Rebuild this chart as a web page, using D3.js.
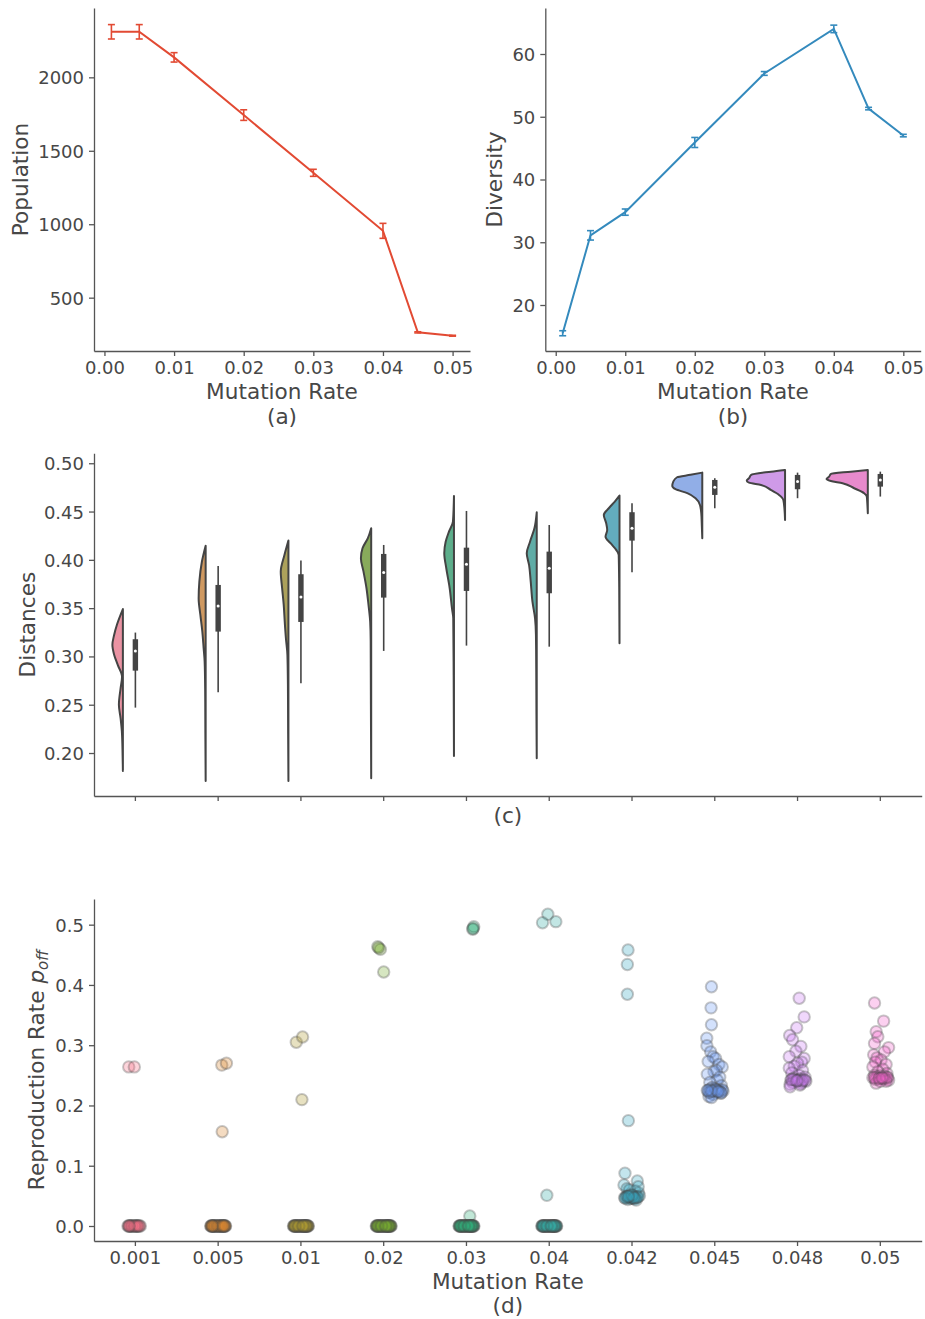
<!DOCTYPE html>
<html><head><meta charset="utf-8">
<script src="https://cdn.jsdelivr.net/npm/d3@7"></script>
<style>
body{margin:0;background:#fff;}
text{font-family:"DejaVu Sans",sans-serif;}
</style></head><body>
<svg id="chart" width="925" height="1319"></svg>
<script>
// ---------------- DATA ----------------
const rates = [0.001, 0.005, 0.01, 0.02, 0.03, 0.04, 0.045, 0.05];
const population = [2310, 2310, 2136, 1743, 1350, 955, 264, 241];
const populationErr = [49, 49, 32, 36, 24, 51, 4, 3];
const diversity = [15.5, 31.1, 34.8, 45.9, 56.9, 64.0, 51.3, 47.0];
const diversityErr = [0.4, 0.75, 0.5, 0.8, 0.3, 0.6, 0.2, 0.2];
const rateTicks = [0, 0.01, 0.02, 0.03, 0.04, 0.05];
const populationTicks = [500, 1000, 1500, 2000];
const diversityTicks = [20, 30, 40, 50, 60];

const categories = ["0.001","0.005","0.01","0.02","0.03","0.04","0.042","0.045","0.048","0.05"];
const palette = ["#f77189","#dc8932","#ae9d31","#77ab31","#33b07a","#36ada4","#38a9c5","#6e9bf4","#cc7af4","#f565cc"];
const distanceTicks = [0.20, 0.25, 0.30, 0.35, 0.40, 0.45, 0.50];
const reproTicks = [0.0, 0.1, 0.2, 0.3, 0.4, 0.5];

// violin density profiles: [distance, relative density]
const violinProfiles = [
  [[0.349,0],[0.333,0.14],[0.322,0.21],[0.312,0.25],[0.302,0.21],[0.291,0.12],[0.279,0.02],[0.267,0.055],[0.250,0.095],[0.236,0.055],[0.222,0.024],[0.198,0.007],[0.1815,0]],
  [[0.4147,0],[0.398,0.09],[0.3775,0.15],[0.360,0.167],[0.343,0.126],[0.3257,0.079],[0.3085,0.048],[0.2946,0.024],[0.267,0.012],[0.22,0.007],[0.1711,0]],
  [[0.42,0],[0.405,0.095],[0.3878,0.183],[0.3706,0.15],[0.3533,0.112],[0.336,0.088],[0.3188,0.06],[0.3016,0.024],[0.27,0.012],[0.22,0.007],[0.1711,0]],
  [[0.4327,0],[0.4224,0.079],[0.412,0.207],[0.4017,0.245],[0.3878,0.183],[0.3706,0.112],[0.3533,0.064],[0.336,0.024],[0.316,0.012],[0.25,0.007],[0.1739,0]],
  [[0.4661,0],[0.4396,0.024],[0.4292,0.119],[0.4188,0.198],[0.4068,0.231],[0.3913,0.183],[0.3706,0.102],[0.3499,0.048],[0.3395,0.017],[0.28,0.007],[0.197,0]],
  [[0.4493,0],[0.4327,0.055],[0.4188,0.16],[0.4068,0.238],[0.3947,0.183],[0.3775,0.143],[0.3567,0.102],[0.3395,0.04],[0.3223,0.019],[0.2878,0.012],[0.24,0.007],[0.1946,0]],
  [[0.4665,0],[0.4603,0.112],[0.4534,0.255],[0.4465,0.374],[0.4379,0.317],[0.431,0.293],[0.424,0.333],[0.4172,0.214],[0.4103,0.079],[0.4051,0.019],[0.371,0.007],[0.3137,0]],
  [[0.4903,0],[0.488,0.28],[0.4855,0.6],[0.481,0.69],[0.4765,0.714],[0.4731,0.636],[0.469,0.357],[0.4638,0.16],[0.4568,0.055],[0.4482,0.024],[0.4345,0.01],[0.4224,0]],
  [[0.4931,0],[0.4913,0.333],[0.4879,0.81],[0.4845,0.857],[0.482,0.912],[0.4799,0.857],[0.4775,0.571],[0.4724,0.34],[0.4672,0.143],[0.462,0.04],[0.4517,0.012],[0.4413,0]],
  [[0.4931,0],[0.4913,0.405],[0.4889,0.881],[0.4861,0.921],[0.4837,0.983],[0.4817,0.881],[0.4793,0.602],[0.4741,0.326],[0.469,0.088],[0.4655,0.024],[0.4586,0.012],[0.4482,0]]
];
const whiskerLow  = [0.247, 0.263, 0.2722, 0.3057, 0.3112, 0.3101, 0.3872, 0.4534, 0.4638, 0.4655];
const quartile1   = [0.2853, 0.3257, 0.3357, 0.3609, 0.3678, 0.3654, 0.4199, 0.4672, 0.4731, 0.4758];
const medians     = [0.3057, 0.3523, 0.3616, 0.3868, 0.3954, 0.3913, 0.4327, 0.4752, 0.481, 0.4827];
const quartile3   = [0.3178, 0.374, 0.3851, 0.4061, 0.4126, 0.4085, 0.4493, 0.4827, 0.4879, 0.4889];
const whiskerHigh = [0.3247, 0.3937, 0.3992, 0.4154, 0.4506, 0.4361, 0.4586, 0.4845, 0.4903, 0.4913];

// strip points: [reproduction rate, jitter (category units)]
const strip001 = [[0.264,-0.08],[0.264,-0.013],
  [0,-0.09],[0,-0.07],[0,-0.05],[0,-0.035],[0,-0.02],[0,0.0],[0,0.015],[0,0.03],[0,0.05],[0,-0.06],[0,0.01],[0,-0.08],[0,0.06],
  [0,-0.04],[0,0.02],[0,-0.01],[0,0.04],[0,-0.075]];
const strip005 = [[0.267,0.044],[0.270,0.1],[0.1565,0.049],
  [0,-0.09],[0,-0.075],[0,-0.06],[0,-0.045],[0,-0.03],[0,-0.015],[0,0.0],[0,0.015],[0,0.03],[0,0.045],[0,0.06],[0,0.075],[0,0.09],[0,-0.05],[0,0.02],[0,0.07],[0,-0.02],[0,0.04],[0,-0.08],[0,0.08],
  [0,-0.085],[0,-0.065],[0,-0.04],[0,-0.01],[0,0.01],[0,0.035],[0,0.055],[0,0.085],[0,-0.07],[0,0.065]];
const strip01 = [[0.305,-0.056],[0.3136,0.02],[0.2097,0.012],
  [0,-0.09],[0,-0.075],[0,-0.06],[0,-0.045],[0,-0.03],[0,-0.015],[0,0.0],[0,0.015],[0,0.03],[0,0.045],[0,0.06],[0,0.075],[0,0.09],[0,-0.05],[0,0.02],[0,0.07],[0,-0.02],[0,0.04],[0,-0.08],[0,0.08],[0,-0.01],[0,0.05],[0,-0.065],[0,0.085],
  [0,-0.085],[0,-0.04],[0,0.01],[0,0.035],[0,0.055],[0,-0.07],[0,0.065],[0,-0.025],[0,0.025]];
const strip02 = [[0.4635,-0.072],[0.459,-0.04],[0.4615,-0.06],[0.4215,0.0],
  [0,-0.09],[0,-0.075],[0,-0.06],[0,-0.045],[0,-0.03],[0,-0.015],[0,0.0],[0,0.015],[0,0.03],[0,0.045],[0,0.06],[0,0.075],[0,0.09],[0,-0.05],[0,0.02],[0,0.07],[0,-0.02],[0,0.04],[0,-0.08],[0,0.08],[0,-0.01],[0,0.05],[0,-0.065],[0,0.085],
  [0,-0.085],[0,-0.04],[0,0.01],[0,0.035],[0,0.055],[0,-0.07],[0,0.065],[0,-0.025],[0,0.025]];
const strip03 = [[0.4924,0.076],[0.4967,0.088],[0.4935,0.08],[0.0166,0.04],
  [0,-0.09],[0,-0.075],[0,-0.06],[0,-0.045],[0,-0.03],[0,-0.015],[0,0.0],[0,0.015],[0,0.03],[0,0.045],[0,0.06],[0,0.075],[0,0.09],[0,-0.05],[0,0.02],[0,0.07],[0,-0.02],[0,0.04],[0,-0.08],[0,0.08],[0,-0.01],[0,0.05],[0,-0.065],[0,0.085],
  [0,-0.085],[0,-0.04],[0,0.01],[0,0.035],[0,0.055],[0,-0.07],[0,0.065],[0,-0.025],[0,0.025]];
const strip04 = [[0.5172,-0.017],[0.5033,-0.081],[0.505,0.08],[0.0509,-0.029],
  [0,-0.09],[0,-0.075],[0,-0.06],[0,-0.045],[0,-0.03],[0,-0.015],[0,0.0],[0,0.015],[0,0.03],[0,0.045],[0,0.06],[0,0.075],[0,0.09],[0,-0.05],[0,0.02],[0,0.07],[0,-0.02],[0,0.04],[0,-0.08],[0,0.08],[0,-0.01],[0,0.05],[0,-0.065],[0,0.085],
  [0,-0.085],[0,-0.04],[0,0.01],[0,0.035],[0,0.055],[0,-0.07],[0,0.065],[0,-0.025],[0,0.025]];
const strip042 = [[0.458,-0.048],[0.434,-0.056],[0.3845,-0.056],[0.1748,-0.044],[0.0874,-0.085],[0.0747,0.064],[0.068,-0.097],
  [0.062,-0.06],[0.058,0.04],[0.055,0.08],[0.052,-0.02],[0.05,0.02],[0.049,-0.07],[0.048,0.06],[0.047,-0.04],[0.046,0.0],[0.045,0.03],[0.044,-0.05],[0.05,0.09],[0.043,0.05],[0.047,-0.09],[0.06,-0.03],[0.065,0.075],[0.046,-0.01],[0.048,0.01],
  [0.049,-0.06],[0.047,0.045],[0.05,-0.03],[0.048,0.07],[0.046,-0.08],[0.051,0.0],[0.047,0.025],[0.049,-0.045]];
const strip045 = [[0.397,-0.04],[0.362,-0.045],[0.334,-0.04],[0.3115,-0.097],[0.299,-0.095],[0.289,-0.05],[0.281,-0.02],[0.278,0.01],[0.273,-0.08],[0.268,0.05],[0.264,0.09],[0.258,0.02],[0.256,-0.01],[0.252,-0.09],[0.247,0.06],[0.242,0.03],[0.238,-0.06],[0.233,0.08],[0.23,-0.03],[0.228,0.0],[0.226,0.05],[0.225,-0.08],[0.224,0.1],[0.222,0.02],[0.221,-0.05],[0.22,0.07],[0.218,-0.02],[0.215,-0.07],[0.213,-0.04],[0.226,0.09],
  [0.227,-0.06],[0.225,0.03],[0.224,-0.02],[0.223,0.06],[0.222,-0.07],[0.226,0.01],[0.221,0.08],[0.224,-0.04],[0.223,0.04],[0.225,-0.09]];
const strip048 = [[0.378,0.02],[0.347,0.08],[0.329,-0.01],[0.316,-0.095],[0.309,-0.06],[0.298,0.04],[0.29,-0.02],[0.281,-0.1],[0.278,0.08],[0.272,0.05],[0.27,0.0],[0.265,-0.04],[0.262,-0.1],[0.258,0.06],[0.254,-0.07],[0.25,0.02],[0.247,0.09],[0.245,-0.05],[0.244,0.03],[0.243,0.07],[0.242,-0.08],[0.241,-0.02],[0.24,0.1],[0.24,0.0],[0.239,0.05],[0.238,-0.06],[0.236,0.04],[0.235,-0.09],[0.231,-0.09],[0.234,0.03],
  [0.243,-0.04],[0.242,0.01],[0.241,0.06],[0.243,-0.07],[0.242,0.09],[0.241,-0.01]];
const strip05 = [[0.37,-0.07],[0.34,0.04],[0.3225,-0.05],[0.314,-0.03],[0.303,-0.07],[0.296,0.1],[0.289,0.05],[0.284,-0.08],[0.279,-0.04],[0.2755,0.01],[0.272,-0.06],[0.268,0.07],[0.264,-0.09],[0.26,0.03],[0.256,-0.03],[0.253,0.08],[0.25,-0.07],[0.249,0.0],[0.248,0.05],[0.247,-0.04],[0.246,0.09],[0.246,-0.09],[0.245,0.02],[0.244,-0.02],[0.244,0.06],[0.243,-0.06],[0.242,0.1],[0.24,0.07],[0.237,-0.05],[0.24,0.0],
  [0.246,-0.07],[0.245,0.04],[0.247,0.08],[0.245,-0.01],[0.246,0.02]];
const stripPoints = [strip001, strip005, strip01, strip02, strip03, strip04, strip042, strip045, strip048, strip05];

// ---------------- DRAW ----------------
const svg = d3.select("#chart");
const TXT = "#474747", SPINE = "#555", DARK = "#444";
const TICK_FS = 18, LABEL_FS = 21.6;

function styleAxis(g) {
  g.select(".domain").attr("stroke", SPINE).attr("stroke-width", 1.3);
  g.selectAll(".tick line").attr("stroke", SPINE).attr("stroke-width", 1.3);
  g.selectAll(".tick text").attr("fill", TXT).attr("font-size", TICK_FS)
    .attr("font-family", "DejaVu Sans");
}
function yLabel(x, y, text) {
  return svg.append("text").attr("transform", `translate(${x},${y}) rotate(-90)`)
    .attr("text-anchor", "middle").attr("fill", TXT).attr("font-size", LABEL_FS).text(text);
}
function xLabel(x, y, text) {
  return svg.append("text").attr("x", x).attr("y", y).attr("text-anchor", "middle")
    .attr("fill", TXT).attr("font-size", LABEL_FS).text(text);
}

// ---- Panel (a) and (b): line + error bars ----
function linePanel(box, yDomain, yTicks, values, errs, color, ylab, ylabX, cap) {
  const x = d3.scaleLinear().domain([-0.0015, 0.0525]).range([box.x0, box.x1]);
  const y = d3.scaleLinear().domain(yDomain).range([box.y1, box.y0]);
  const gx = svg.append("g").attr("transform", `translate(0,${box.y1})`)
    .call(d3.axisBottom(x).tickValues(rateTicks).tickFormat(d3.format(".2f")).tickSize(5).tickSizeOuter(0).tickPadding(5));
  styleAxis(gx);
  const gy = svg.append("g").attr("transform", `translate(${box.x0},0)`)
    .call(d3.axisLeft(y).tickValues(yTicks).tickFormat(d3.format("d")).tickSize(5).tickSizeOuter(0).tickPadding(5));
  styleAxis(gy);
  gy.selectAll(".tick text").attr("dy", "0.36em");
  const pts = rates.map((r, i) => ({ r, v: values[i], e: errs[i] }));
  svg.append("path").datum(pts).attr("fill", "none").attr("stroke", color).attr("stroke-width", 2)
    .attr("d", d3.line().x(d => x(d.r)).y(d => y(d.v)));
  const eb = svg.append("g").attr("stroke", color).attr("stroke-width", 1.6);
  pts.forEach(d => {
    const cx = x(d.r), ya = y(d.v - d.e), yb = y(d.v + d.e);
    eb.append("line").attr("x1", cx).attr("x2", cx).attr("y1", ya).attr("y2", yb);
    eb.append("line").attr("x1", cx - cap).attr("x2", cx + cap).attr("y1", ya).attr("y2", ya);
    eb.append("line").attr("x1", cx - cap).attr("x2", cx + cap).attr("y1", yb).attr("y2", yb);
  });
  yLabel(ylabX, (box.y0 + box.y1) / 2, ylab);
}
const boxA = { x0: 94, x1: 470, y0: 8, y1: 351 };
const boxB = { x0: 545.3, x1: 920.7, y0: 8, y1: 351 };
linePanel(boxA, [137, 2472], populationTicks, population, populationErr, "#e24a33", "Population", 28, 3.5);
linePanel(boxB, [12.67, 67.33], diversityTicks, diversity, diversityErr, "#348abd", "Diversity", 502, 3.5);
xLabel((boxA.x0 + boxA.x1) / 2, 399, "Mutation Rate");
xLabel((boxA.x0 + boxA.x1) / 2, 423.5, "(a)");
xLabel((boxB.x0 + boxB.x1) / 2, 399, "Mutation Rate");
xLabel((boxB.x0 + boxB.x1) / 2, 423.5, "(b)");

// ---- Panel (c): half violins + boxes ----
const boxC = { x0: 94, x1: 921.7, y0: 453.3, y1: 796 };
const xc = d3.scaleBand().domain(categories).range([boxC.x0, boxC.x1]).padding(0);
const yc = d3.scaleLinear().domain([0.1555, 0.5103]).range([boxC.y1, boxC.y0]);
const wScale = d3.scaleLinear().domain([0, 1]).range([0, 42]);
const step = xc.step();
{
  const gx = svg.append("g").attr("transform", `translate(0,${boxC.y1})`)
    .call(d3.axisBottom(xc).tickFormat("").tickSize(5).tickSizeOuter(0));
  styleAxis(gx);
  const gy = svg.append("g").attr("transform", `translate(${boxC.x0},0)`)
    .call(d3.axisLeft(yc).tickValues(distanceTicks).tickFormat(d3.format(".2f")).tickSize(5).tickSizeOuter(0).tickPadding(5));
  styleAxis(gy);
  gy.selectAll(".tick text").attr("dy", "0.36em");
  categories.forEach((c, i) => {
    const center = xc(c) + step / 2;
    const edge = center - 0.151 * step;
    const hsl = d3.hsl(palette[i]); hsl.s *= 0.75;
    const rgb = d3.rgb(hsl);
    const a = 0.86;
    const fill = d3.rgb(255 - a * (255 - rgb.r), 255 - a * (255 - rgb.g), 255 - a * (255 - rgb.b));
    const area = d3.area().curve(d3.curveMonotoneY)
      .y(d => yc(d[0])).x0(edge).x1(d => edge - wScale(d[1]));
    svg.append("path").datum(violinProfiles[i]).attr("d", area)
      .attr("fill", fill.formatHex()).attr("stroke", DARK).attr("stroke-width", 2).attr("stroke-linejoin", "round");
    svg.append("line").attr("x1", center).attr("x2", center)
      .attr("y1", yc(whiskerLow[i])).attr("y2", yc(whiskerHigh[i]))
      .attr("stroke", DARK).attr("stroke-width", 1.6);
    svg.append("rect").attr("x", center - 2.7).attr("width", 5.4)
      .attr("y", yc(quartile3[i])).attr("height", yc(quartile1[i]) - yc(quartile3[i]))
      .attr("fill", DARK);
    svg.append("circle").attr("cx", center).attr("cy", yc(medians[i])).attr("r", 1.5).attr("fill", "#fff");
  });
  yLabel(35, (boxC.y0 + boxC.y1) / 2, "Distances");
  xLabel((boxC.x0 + boxC.x1) / 2, 822.5, "(c)");
}

// ---- Panel (d): strip plot ----
const boxD = { x0: 94, x1: 921.7, y0: 899, y1: 1241 };
const xd = d3.scaleBand().domain(categories).range([boxD.x0, boxD.x1]).padding(0);
const yd = d3.scaleLinear().domain([-0.0249, 0.5426]).range([boxD.y1, boxD.y0]);
{
  const gx = svg.append("g").attr("transform", `translate(0,${boxD.y1})`)
    .call(d3.axisBottom(xd).tickSize(5).tickSizeOuter(0).tickPadding(5));
  styleAxis(gx);
  const gy = svg.append("g").attr("transform", `translate(${boxD.x0},0)`)
    .call(d3.axisLeft(yd).tickValues(reproTicks).tickFormat(d3.format(".1f")).tickSize(5).tickSizeOuter(0).tickPadding(5));
  styleAxis(gy);
  gy.selectAll(".tick text").attr("dy", "0.36em");
  const stepD = xd.step();
  categories.forEach((c, i) => {
    const center = xd(c) + stepD / 2;
    svg.append("g").selectAll("circle").data(stripPoints[i]).join("circle")
      .attr("cx", d => center + d[1] * stepD).attr("cy", d => yd(d[0])).attr("r", 5.7)
      .attr("fill", palette[i]).attr("fill-opacity", 0.3)
      .attr("stroke", DARK).attr("stroke-opacity", 0.3).attr("stroke-width", 2);
  });
  const lab = svg.append("text").attr("transform", `translate(44,${(boxD.y0 + boxD.y1) / 2}) rotate(-90)`)
    .attr("text-anchor", "middle").attr("fill", TXT).attr("font-size", LABEL_FS);
  lab.append("tspan").text("Reproduction Rate ");
  lab.append("tspan").attr("font-style", "italic").text("p");
  lab.append("tspan").attr("font-style", "italic").attr("font-size", 15).attr("dy", 4).text("off");
  xLabel((boxD.x0 + boxD.x1) / 2, 1289, "Mutation Rate");
  xLabel((boxD.x0 + boxD.x1) / 2, 1313, "(d)");
}
</script>
</body></html>
